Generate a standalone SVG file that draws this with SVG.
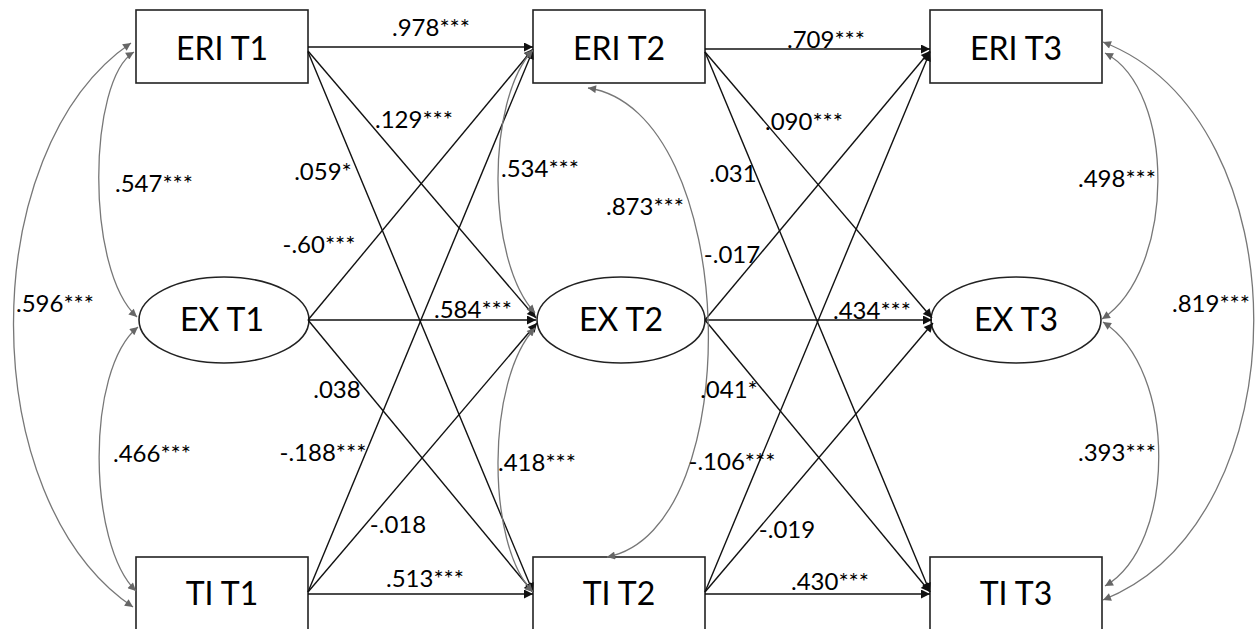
<svg xmlns="http://www.w3.org/2000/svg" width="1256" height="629" viewBox="0 0 1256 629">
<style>
.box{fill:#fff;stroke:#222;stroke-width:1.6}
.nt{font-family:Lato,"Liberation Sans",sans-serif;font-size:32px;fill:#000;text-anchor:middle}
.lb{font-family:Lato,"Liberation Sans",sans-serif;font-size:24px;fill:#000;text-anchor:middle}
.path{fill:none;stroke:#111;stroke-width:1.4;marker-end:url(#ah)}
.cov{fill:none;stroke:#777;stroke-width:1.3;marker-start:url(#gh);marker-end:url(#gh)}
</style>
<defs>
<marker id="ah" viewBox="0 0 10 10" refX="10" refY="5" markerWidth="11" markerHeight="9" orient="auto" markerUnits="userSpaceOnUse"><path d="M0,0 L10,5 L0,10 z" fill="#111"/></marker>
<marker id="gh" viewBox="0 0 10 10" refX="10" refY="5" markerWidth="10" markerHeight="8" orient="auto-start-reverse" markerUnits="userSpaceOnUse"><path d="M0,0 L10,5 L0,10 z" fill="#666"/></marker>
</defs>
<rect width="1256" height="629" fill="#fff"/>
<g id="ERI_T1"><rect class="box" x="136" y="10" width="172" height="73"/><text class="nt" x="222" y="60">ERI T1</text></g>
<g id="ERI_T2"><rect class="box" x="533" y="10" width="172" height="73"/><text class="nt" x="619" y="60">ERI T2</text></g>
<g id="ERI_T3"><rect class="box" x="930" y="10" width="172" height="73"/><text class="nt" x="1016" y="60">ERI T3</text></g>
<g id="EX_T1"><ellipse class="box" cx="224" cy="320" rx="85" ry="43"/><text class="nt" x="222" y="331">EX T1</text></g>
<g id="EX_T2"><ellipse class="box" cx="621" cy="320" rx="84" ry="43"/><text class="nt" x="621" y="331">EX T2</text></g>
<g id="EX_T3"><ellipse class="box" cx="1016" cy="320" rx="85" ry="43"/><text class="nt" x="1016" y="331">EX T3</text></g>
<g id="TI_T1"><rect class="box" x="136" y="557" width="172" height="73"/><text class="nt" x="222" y="605">TI T1</text></g>
<g id="TI_T2"><rect class="box" x="533" y="557" width="172" height="73"/><text class="nt" x="619" y="605">TI T2</text></g>
<g id="TI_T3"><rect class="box" x="930" y="557" width="172" height="73"/><text class="nt" x="1016" y="605">TI T3</text></g>
<g id="connectors">
<line class="path" x1="308" y1="47" x2="533" y2="47"/>
<line class="path" x1="308" y1="51" x2="536" y2="318"/>
<line class="path" x1="308" y1="52" x2="533" y2="592"/>
<line class="path" x1="308" y1="320" x2="533" y2="49"/>
<line class="path" x1="308" y1="320" x2="536" y2="320"/>
<line class="path" x1="308" y1="320" x2="533" y2="592"/>
<line class="path" x1="308" y1="592" x2="533" y2="50"/>
<line class="path" x1="308" y1="592" x2="537" y2="323"/>
<line class="path" x1="308" y1="594" x2="533" y2="594"/>
<line class="path" x1="705" y1="49" x2="930" y2="49"/>
<line class="path" x1="705" y1="52" x2="932" y2="318"/>
<line class="path" x1="705" y1="52" x2="930" y2="592"/>
<line class="path" x1="705" y1="320" x2="930" y2="51"/>
<line class="path" x1="705" y1="320" x2="932" y2="320"/>
<line class="path" x1="705" y1="320" x2="930" y2="592"/>
<line class="path" x1="705" y1="592" x2="930" y2="52"/>
<line class="path" x1="705" y1="592" x2="933" y2="323"/>
<line class="path" x1="705" y1="594" x2="930" y2="594"/>
<path class="cov" d="M134,52 C88,80 85,270 137,317"/>
<path class="cov" d="M138,327 C85,370 88,545 136,591"/>
<path class="cov" d="M131,43 C-26,150 -26,500 133,607"/>
<path class="cov" d="M533,50 C486,100 486,260 535,313"/>
<path class="cov" d="M535,328 C486,380 486,545 533,592"/>
<path class="cov" d="M588,88 C740,110 750,530 607,557"/>
<path class="cov" d="M1105,53 C1176,90 1176,270 1102,319"/>
<path class="cov" d="M1103,322 C1178,370 1176,545 1105,586"/>
<path class="cov" d="M1103,42 C1304,120 1304,520 1103,600"/>
</g>
<g id="labels">
<text class="lb" x="431" y="36">.978***</text>
<text class="lb" x="414" y="128">.129***</text>
<text class="lb" x="323" y="180">.059*</text>
<text class="lb" x="540" y="177">.534***</text>
<text class="lb" x="645" y="215">.873***</text>
<text class="lb" x="826" y="48">.709***</text>
<text class="lb" x="804" y="130">.090***</text>
<text class="lb" x="733" y="182">.031</text>
<text class="lb" x="154" y="192">.547***</text>
<text class="lb" x="55" y="312">.596***</text>
<text class="lb" x="319" y="253">-.60***</text>
<text class="lb" x="473" y="318">.584***</text>
<text class="lb" x="337" y="398">.038</text>
<text class="lb" x="732" y="263">-.017</text>
<text class="lb" x="872" y="319">.434***</text>
<text class="lb" x="729" y="398">.041*</text>
<text class="lb" x="1117" y="187">.498***</text>
<text class="lb" x="1211" y="312">.819***</text>
<text class="lb" x="152" y="462">.466***</text>
<text class="lb" x="323" y="461">-.188***</text>
<text class="lb" x="398" y="533">-.018</text>
<text class="lb" x="425" y="587">.513***</text>
<text class="lb" x="537" y="471">.418***</text>
<text class="lb" x="732" y="470">-.106***</text>
<text class="lb" x="787" y="538">-.019</text>
<text class="lb" x="830" y="590">.430***</text>
<text class="lb" x="1117" y="461">.393***</text>
</g>
</svg>
